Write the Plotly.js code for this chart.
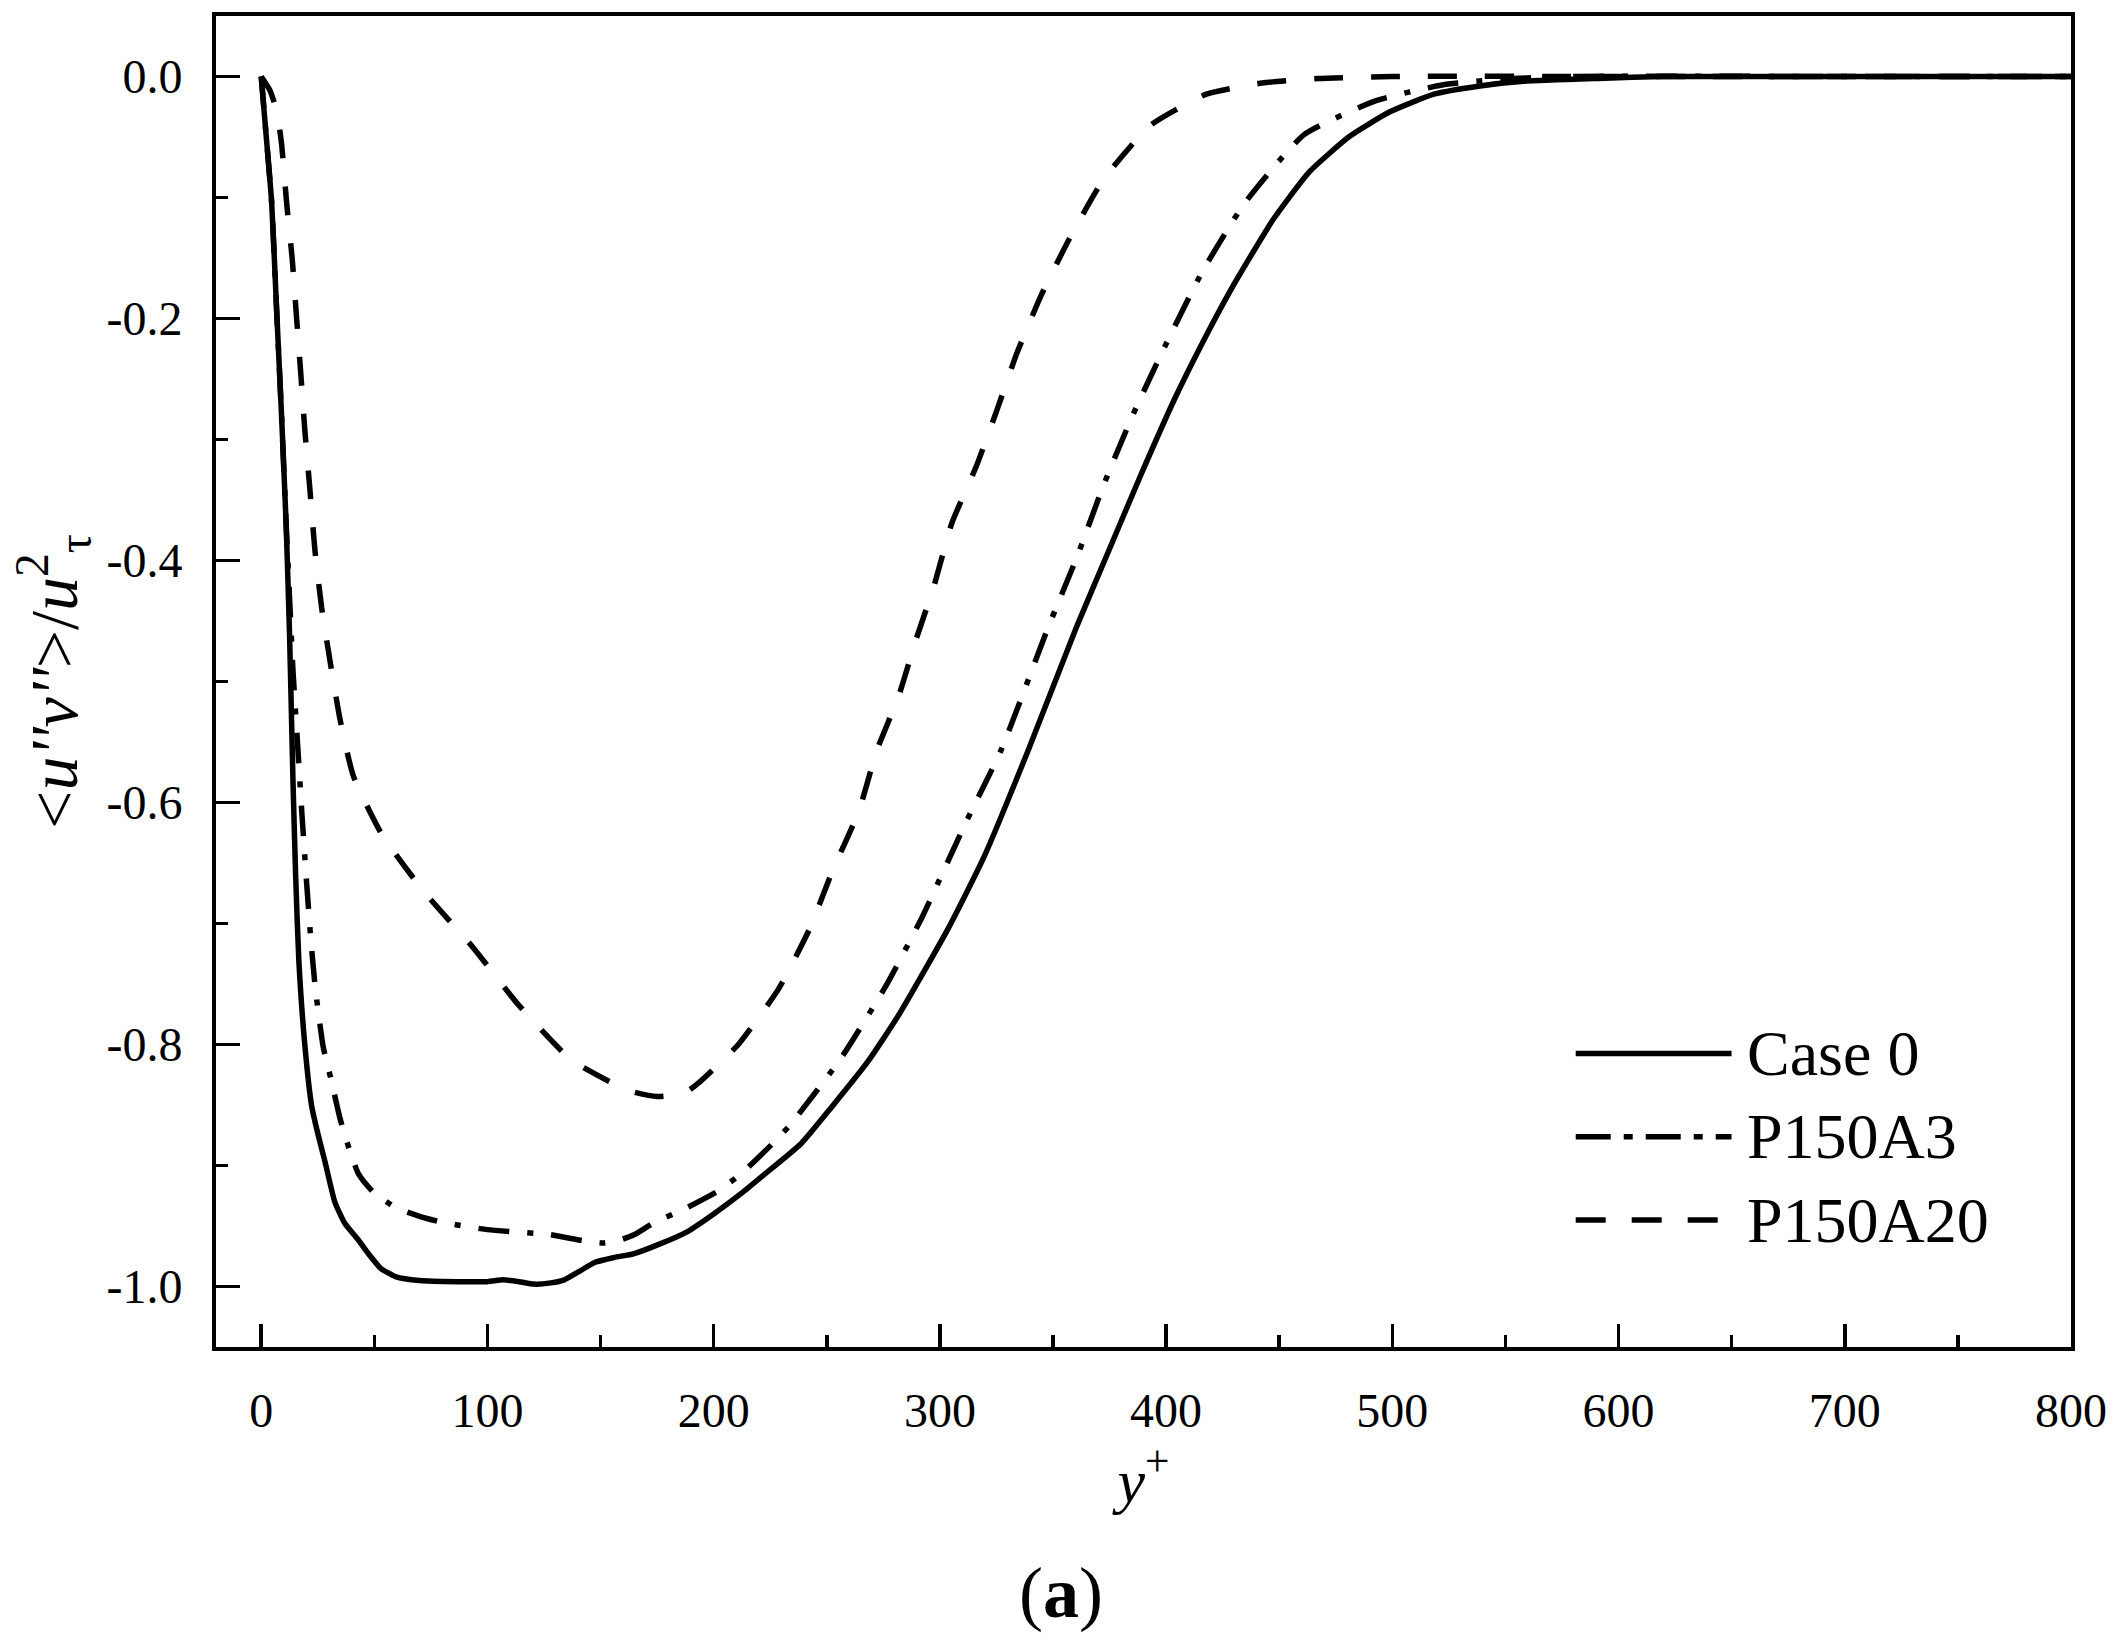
<!DOCTYPE html>
<html>
<head>
<meta charset="utf-8">
<script src="https://cdn.plot.ly/plotly-3.0.1.min.js"></script>
<style>html,body{margin:0;padding:0;background:#fff;}</style>
</head>
<body>
<div id="chart" style="width:2118px;height:1645px;"></div>
<script>
// ---- data ----
const seriesNames = ["Case 0", "P150A3", "P150A20"];

const case0X = [0, 2, 4.6, 6.8, 9, 11, 12.5, 14, 15.2, 16.6, 19.3, 22.3, 25.2, 28.2, 32.5, 37, 42.7, 47, 52.8, 59.6, 70, 86.7, 100, 107, 114, 120.5, 128, 134, 141, 147.6, 156, 164.5, 176, 188, 200, 212.9, 222, 238.6, 252, 268.2, 282, 303.7, 319.5, 339, 360.6, 374.4, 388.2, 404, 415.8, 429.6, 447.4, 463.2, 481, 498.7, 518.4, 538, 558, 591, 620, 700, 800];
const case0Y = [0, -0.045, -0.104, -0.193, -0.281, -0.37, -0.46, -0.58, -0.66, -0.73, -0.801, -0.851, -0.875, -0.897, -0.93, -0.948, -0.961, -0.972, -0.985, -0.992, -0.995, -0.996, -0.996, -0.9945, -0.996, -0.998, -0.997, -0.9945, -0.987, -0.98, -0.976, -0.973, -0.965, -0.955, -0.94, -0.922, -0.908, -0.882, -0.852, -0.814, -0.775, -0.704, -0.645, -0.557, -0.454, -0.393, -0.332, -0.2655, -0.221, -0.173, -0.118, -0.079, -0.0496, -0.0294, -0.0146, -0.008, -0.004, -0.0016, 0, 0, 0];

const p150a3X = [0, 2, 4.6, 6.8, 9, 11, 12.5, 14, 16, 18, 20, 22, 24, 27.4, 31, 34.8, 39, 43, 49.5, 59.6, 70, 80, 100, 127, 142, 151, 158, 165, 173, 188, 202, 212, 226, 234, 256.4, 276, 291.8, 311.6, 327, 347.7, 360.6, 372.3, 385.2, 400, 415.8, 434.6, 461, 492.8, 522, 550, 580, 700, 800];
const p150a3Y = [0, -0.045, -0.104, -0.193, -0.281, -0.37, -0.43, -0.49, -0.55, -0.61, -0.665, -0.715, -0.755, -0.802, -0.83, -0.861, -0.887, -0.907, -0.922, -0.935, -0.942, -0.947, -0.953, -0.957, -0.962, -0.964, -0.962, -0.957, -0.948, -0.935, -0.921, -0.907, -0.882, -0.866, -0.811, -0.752, -0.696, -0.616, -0.557, -0.456, -0.397, -0.338, -0.28, -0.221, -0.162, -0.105, -0.048, -0.02, -0.007, -0.002, 0, 0, 0];

const p150a20X = [0, 4, 7, 9, 11.2, 13.7, 15.6, 17.5, 19.3, 21.5, 23.7, 26.7, 30.4, 34.8, 40.7, 53.2, 71.6, 93.7, 113.6, 137.2, 162.2, 175, 187.3, 193.2, 210.9, 228.7, 242.5, 252.4, 264.2, 272.1, 281.6, 289.5, 297.4, 305.3, 316, 325, 334, 344.8, 357.6, 372.4, 393, 417.8, 442.4, 467, 500, 600, 700, 800];
const p150a20Y = [0, -0.012, -0.03, -0.056, -0.104, -0.151, -0.199, -0.246, -0.293, -0.341, -0.391, -0.439, -0.483, -0.531, -0.578, -0.626, -0.673, -0.72, -0.767, -0.813, -0.838, -0.843, -0.84, -0.832, -0.80, -0.754, -0.704, -0.657, -0.607, -0.557, -0.513, -0.465, -0.421, -0.369, -0.3226, -0.2768, -0.2288, -0.1807, -0.1328, -0.0848, -0.0404, -0.0146, -0.0054, -0.0017, 0, 0, 0, 0];

const xTickVals = [0, 100, 200, 300, 400, 500, 600, 700, 800];
const xTickText = ["0", "100", "200", "300", "400", "500", "600", "700", "800"];
const xMinorVals = [50, 150, 250, 350, 450, 550, 650, 750];
const yTickVals = [0, -0.2, -0.4, -0.6, -0.8, -1.0];
const yTickText = ["0.0", "-0.2", "-0.4", "-0.6", "-0.8", "-1.0"];
const yMinorVals = [-0.1, -0.3, -0.5, -0.7, -0.9];

// ---- styles ----
const FONT = "Liberation Serif, Times New Roman, serif";
const LW = 5.5;
const dashes = ["solid", "31px,18px,6px,18px", "29px,28px"];
const legendDashes = ["solid", "35px,13px,9px,13px", "30px,26px"];

const traces = [
  {x: case0X, y: case0Y},
  {x: p150a3X, y: p150a3Y},
  {x: p150a20X, y: p150a20Y}
].map((d, i) => ({
  type: "scatter", mode: "lines", name: seriesNames[i],
  x: d.x, y: d.y,
  line: {color: "#000", width: LW, dash: dashes[i], shape: "spline", smoothing: 0.5},
  hoverinfo: "skip"
}));

// custom legend (long line samples like the reference)
const legRowsY = [0.2205, 0.158, 0.0954];
const shapes = [];
const annotations = [];
seriesNames.forEach((n, i) => {
  shapes.push({type: "line", xref: "paper", yref: "paper",
    x0: 0.733, x1: 0.817, y0: legRowsY[i], y1: legRowsY[i],
    line: {color: "#000", width: LW, dash: legendDashes[i]}});
  annotations.push({xref: "paper", yref: "paper", x: 0.824, y: legRowsY[i],
    xanchor: "left", yanchor: "middle", showarrow: false, text: n,
    font: {family: FONT, size: 64, color: "#000"}});
});
annotations.push({xref: "paper", yref: "paper", x: 0.4555, y: -0.1848,
  xanchor: "center", yanchor: "middle", showarrow: false,
  text: "(<b>a</b>)", font: {family: FONT, size: 72, color: "#000"}});

const axisCommon = {
  showline: true, linewidth: 4, linecolor: "#000", mirror: true,
  showgrid: false, zeroline: false,
  ticks: "inside", tickwidth: 3.5, tickcolor: "#000",
  tickfont: {family: FONT, size: 48, color: "#000"},
  tickmode: "array"
};

const layout = {
  width: 2118, height: 1645,
  margin: {l: 216, r: 47, t: 16, b: 298, pad: 0},
  paper_bgcolor: "#fff", plot_bgcolor: "#fff",
  font: {family: FONT, color: "#000", size: 48},
  showlegend: false,
  xaxis: Object.assign({}, axisCommon, {
    range: [-20, 800], tickvals: xTickVals, ticktext: xTickText,
    ticklen: 23, ticklabelstandoff: 18,
    minor: {tickmode: "array", tickvals: xMinorVals, ticks: "inside", ticklen: 12, tickwidth: 3.5, tickcolor: "#000", showgrid: false},
    title: {text: "<i>y</i><sup>+</sup>", font: {family: FONT, size: 62, color: "#000"}, standoff: 16}
  }),
  yaxis: Object.assign({}, axisCommon, {
    range: [-1.05, 0.05], tickvals: yTickVals, ticktext: yTickText,
    ticklen: 24, ticklabelstandoff: 20,
    minor: {tickmode: "array", tickvals: yMinorVals, ticks: "inside", ticklen: 12, tickwidth: 3.5, tickcolor: "#000", showgrid: false},
    title: {text: "&lt;<i>u''v''</i>&gt;/<i>u</i><sup>2</sup><sub>τ</sub>", font: {family: FONT, size: 68, color: "#000"}, standoff: 8}
  }),
  shapes: shapes,
  annotations: annotations
};

Plotly.newPlot("chart", traces, layout, {displayModeBar: false, staticPlot: true});
</script>
</body>
</html>
